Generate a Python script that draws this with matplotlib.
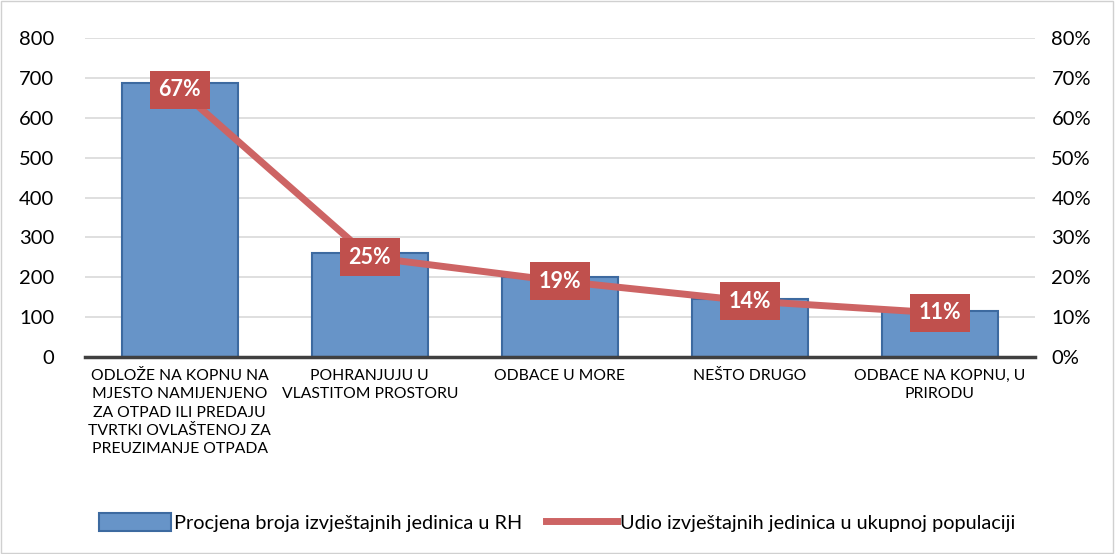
import matplotlib.pyplot as plt
from matplotlib.patches import Rectangle
from matplotlib.lines import Line2D
from matplotlib.ticker import PercentFormatter

categories = [
    'ODLOŽE NA KOPNU NA\nMJESTO NAMIJENJENO\nZA OTPAD ILI PREDAJU\nTVRTKI OVLAŠTENOJ ZA\nPREUZIMANJE OTPADA',
    'POHRANJUJU U\nVLASTITOM PROSTORU',
    'ODBACE U MORE',
    'NEŠTO DRUGO',
    'ODBACE NA KOPNU, U\nPRIRODU',
]
procjena = [688, 260, 200, 145, 115]
udio = [0.67, 0.25, 0.19, 0.14, 0.11]

plt.rcParams['font.family'] = ['Lato', 'DejaVu Sans']

fig = plt.figure(figsize=(11.15, 5.54), dpi=100)
fig.patches.append(Rectangle((0.001, 0.001), 0.997, 0.997, transform=fig.transFigure,
                             fill=False, edgecolor='#d0d0d0', linewidth=1))
ax = fig.add_axes([0.076, 0.356, 0.852, 0.575])
ax2 = ax.twinx()

x = range(len(categories))
ax.bar(x, procjena, width=0.61, color='#6794c8', edgecolor='#3d6aa0', linewidth=1.5, zorder=2)
ax.set_ylim(0, 800)
ax.set_yticks(range(0, 801, 100))
ax.set_xlim(-0.5, len(categories) - 0.5)
ax.grid(axis='y', color='#d9d9d9', linewidth=1.2, zorder=0)
ax.set_axisbelow(True)
ax.set_xticks(list(x))
ax.set_xticklabels(categories, fontsize=11.3, linespacing=1.38, va='top')
ax.tick_params(axis='x', length=0, pad=9)
ax.tick_params(axis='y', length=0, labelsize=14.5, pad=22)

ax2.plot(x, udio, color='#cd6464', linewidth=5, solid_capstyle='round', zorder=3)
ax2.set_ylim(0, 0.8)
ax2.set_yticks([i / 10 for i in range(9)])
ax2.yaxis.set_major_formatter(PercentFormatter(1.0, decimals=0))
ax2.tick_params(axis='y', length=0, labelsize=14.5, pad=12)
for xi, v in zip(x, udio):
    ax2.text(xi, v, f'{round(v * 100)}%', ha='center', va='center', color='white',
             fontsize=15.5, fontweight='bold', zorder=4,
             bbox=dict(boxstyle='square,pad=0.4', facecolor='#c0504d', edgecolor='none'))

for a in (ax, ax2):
    for s in ('top', 'left', 'right', 'bottom'):
        a.spines[s].set_visible(False)
ax.axhline(0, color='#404040', linewidth=2.5, zorder=5, clip_on=False)

handles = [
    Rectangle((0, 0), 1, 1, facecolor='#6794c8', edgecolor='#3d6aa0', linewidth=1.5),
    Line2D([0], [0], color='#cd6464', linewidth=5),
]
fig.legend(handles, ['Procjena broja izvještajnih jedinica u RH',
                     'Udio izvještajnih jedinica u ukupnoj populaciji'],
           loc='center', bbox_to_anchor=(0.5, 0.057), ncol=2, frameon=False,
           fontsize=14.3, handlelength=3.6, handleheight=1.0, handletextpad=0.15, columnspacing=1.2)

fig.savefig('out.png', dpi=100)
